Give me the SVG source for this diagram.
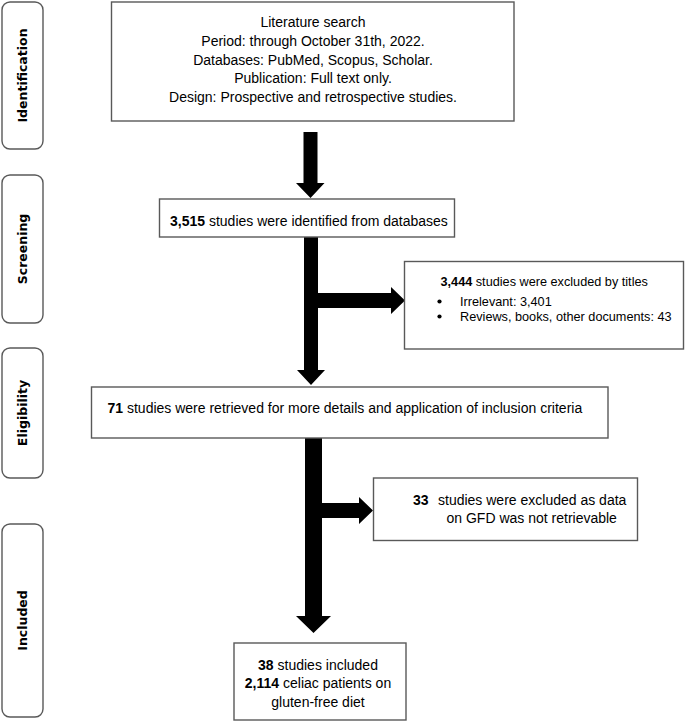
<svg xmlns="http://www.w3.org/2000/svg" width="685" height="722" viewBox="0 0 685 722">
<style>
.box{fill:#fff;stroke:#595959;stroke-width:1.4}
.side{fill:#fff;stroke:#595959;stroke-width:1.4}
.t{font-family:"Liberation Sans",Arial,sans-serif;font-size:14px;fill:#000}
.s{font-size:12.7px}
.c{text-anchor:middle}
.b{font-weight:bold}
.lab{font-family:"DejaVu Sans",Verdana,sans-serif;font-size:12.5px;font-weight:bold;fill:#000;text-anchor:middle}
.arr{fill:#000;stroke:none}
</style>
<rect width="685" height="722" fill="#fff"/>
<g id="phase-identification">
<rect class="side" x="2" y="2" width="41" height="147" rx="8"/>
<text class="lab" transform="translate(27,75.5) rotate(-90)">Identification</text>
</g>
<g id="phase-screening">
<rect class="side" x="2" y="175" width="41" height="148" rx="8"/>
<text class="lab" transform="translate(27,249) rotate(-90)">Screening</text>
</g>
<g id="phase-eligibility">
<rect class="side" x="2" y="348" width="41" height="130" rx="8"/>
<text class="lab" transform="translate(27,413) rotate(-90)">Eligibility</text>
</g>
<g id="phase-included">
<rect class="side" x="2" y="524" width="41" height="193" rx="8"/>
<text class="lab" transform="translate(27,620.5) rotate(-90)">Included</text>
</g>
<g id="connectors">
<polygon class="arr" points="303.5,132 317.5,132 317.5,183 324.5,183 310.5,198 296,183 303.5,183"/>
<polygon class="arr" points="304,237 318,237 318,293 391,293 391,287 405,300.5 391,314 391,308 318,308 318,370 325,370 311,385 297,370 304,370"/>
<polygon class="arr" points="305,438 322,438 322,503 359,503 359,497 373,510.5 359,524 359,518 322,518 322,616 331,616 313.5,633 296,616 305,616"/>
</g>
<g id="node-search">
<rect class="box" x="111.5" y="2" width="402.5" height="119"/>
<text class="t c" x="313" y="26.5">Literature search</text>
<text class="t c" x="313" y="45.5">Period: through October 31th, 2022.</text>
<text class="t c" x="313" y="64.5">Databases: PubMed, Scopus, Scholar.</text>
<text class="t c" x="313" y="83.3">Publication: Full text only.</text>
<text class="t c" x="313" y="102">Design: Prospective and retrospective studies.</text>
</g>
<g id="node-identified">
<rect class="box" x="159.5" y="199" width="295" height="38"/>
<text class="t" x="170" y="225.5"><tspan class="b">3,515</tspan> studies were identified from databases</text>
</g>
<g id="node-excluded-titles">
<rect class="box" x="404.5" y="261.5" width="279" height="87.5"/>
<text class="t s" x="440.5" y="286.3"><tspan class="b">3,444</tspan> studies were excluded by titles</text>
<circle cx="439.5" cy="301.5" r="2.1" fill="#000"/>
<text class="t s" x="460" y="306">Irrelevant: 3,401</text>
<circle cx="439.5" cy="316.5" r="2.1" fill="#000"/>
<text class="t s" x="460" y="321">Reviews, books, other documents: 43</text>
</g>
<g id="node-retrieved">
<rect class="box" x="91.5" y="387" width="516.5" height="51"/>
<text class="t" x="107.5" y="413"><tspan class="b">71</tspan> studies were retrieved for more details and application of inclusion criteria</text>
</g>
<g id="node-excluded-gfd">
<rect class="box" x="373.5" y="478" width="264" height="62.5"/>
<text class="t" x="413" y="505"><tspan class="b">33</tspan></text>
<text class="t" x="438" y="505">studies were excluded as data</text>
<text class="t" x="446.5" y="523">on GFD was not retrievable</text>
</g>
<g id="node-included">
<rect class="box" x="234" y="643" width="172" height="77"/>
<text class="t c" x="318" y="670"><tspan class="b">38</tspan> studies included</text>
<text class="t c" x="318" y="688"><tspan class="b">2,114</tspan> celiac patients on</text>
<text class="t c" x="318" y="706.5">gluten-free diet</text>
</g>
</svg>
